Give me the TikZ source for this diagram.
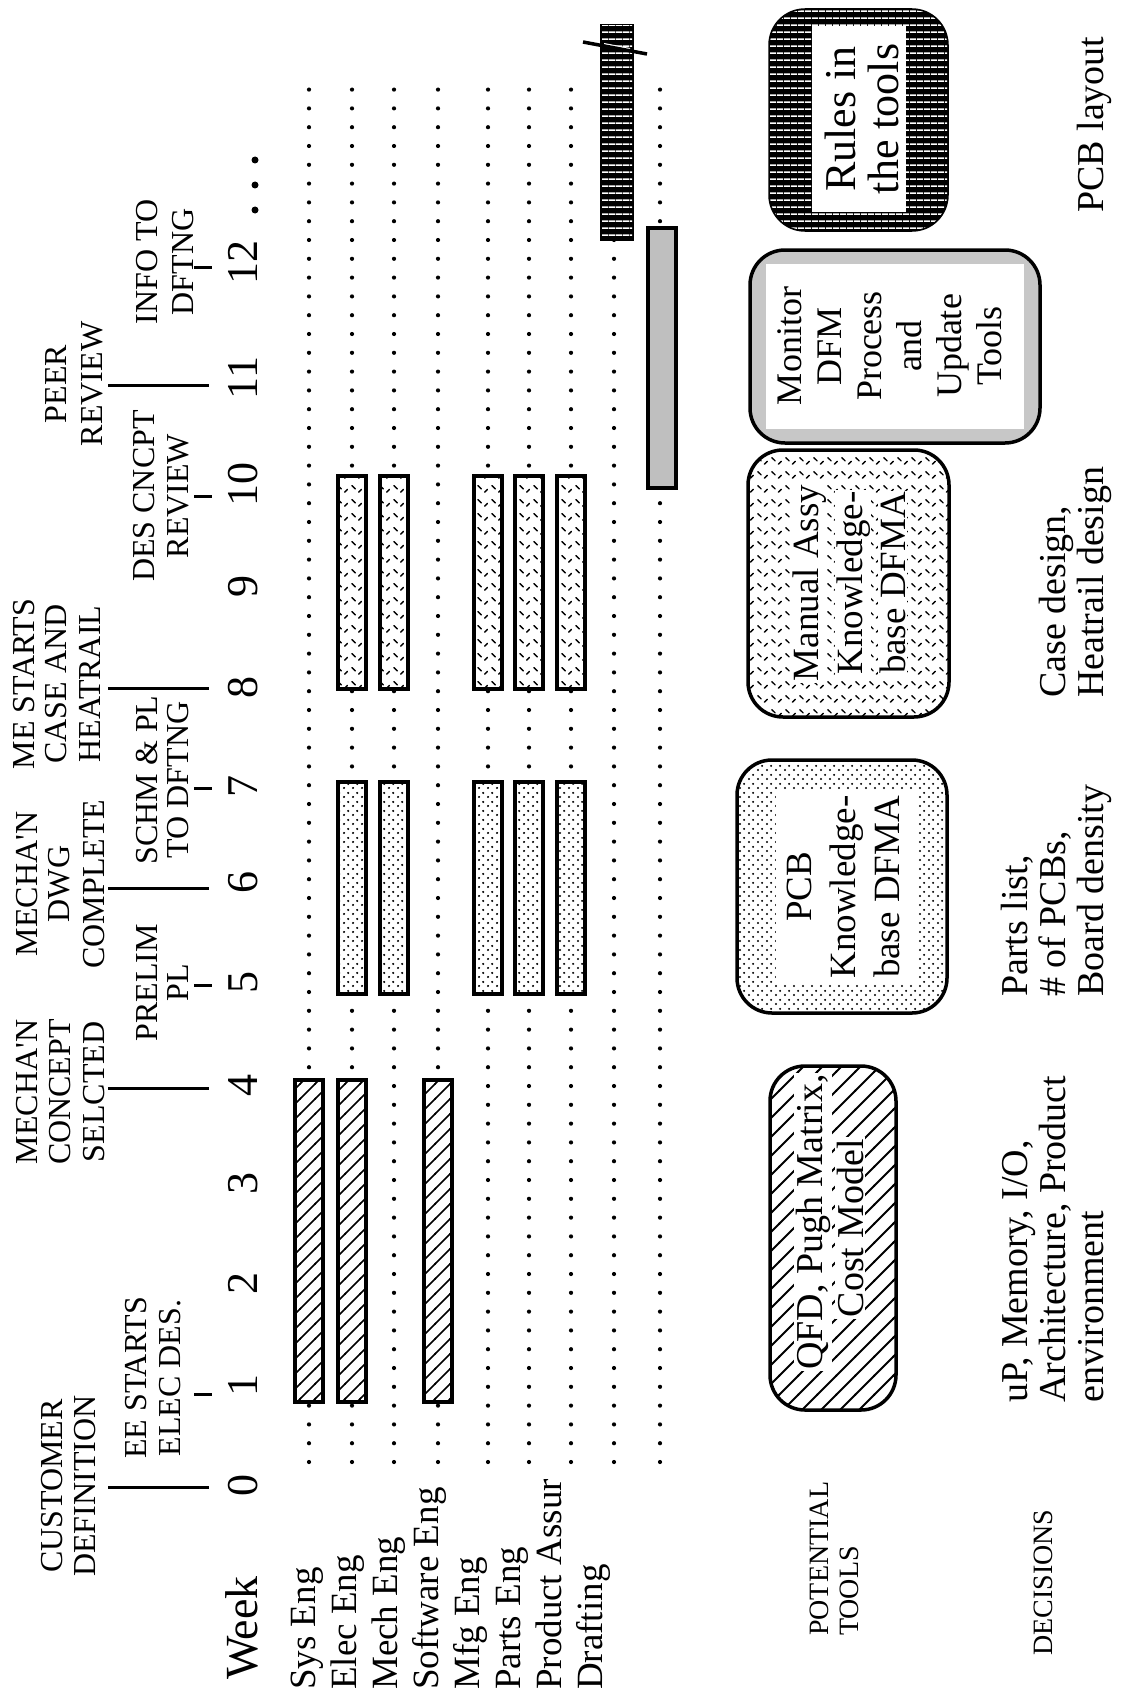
\documentclass[tikz,border=0pt]{standalone}
\usepackage{fontspec}
\setmainfont{Liberation Serif}
\usetikzlibrary{patterns.meta}
\tikzdeclarepattern{name=hatchne,type=uncolored,
  bounding box={(-1pt,-1pt) and (16pt,16pt)},tile size={(15pt,15pt)},
  code={\draw[line width=1.6pt] (-1pt,-1pt) -- (16pt,16pt);}}
\tikzdeclarepattern{name=hatchwide,type=uncolored,
  bounding box={(-1pt,-1pt) and (20pt,20pt)},tile size={(19pt,19pt)},
  code={\draw[line width=1.9pt] (-1pt,-1pt) -- (20pt,20pt);}}
\tikzdeclarepattern{name=stip,type=uncolored,
  bounding box={(0pt,0pt) and (9pt,9pt)},tile size={(9pt,9pt)},
  code={\fill (2.25pt,2.25pt) circle (1.25pt); \fill (6.75pt,6.75pt) circle (1.25pt);}}
\tikzdeclarepattern{name=shortdash,type=uncolored,
  bounding box={(0pt,0pt) and (14pt,14pt)},tile size={(14pt,14pt)},
  code={\draw[line width=1.5pt,line cap=round] (2pt,10pt) -- (5.5pt,6.5pt);
        \draw[line width=1.5pt,line cap=round] (9pt,3pt) -- (12pt,6pt);}}
\tikzdeclarepattern{name=hthin,type=uncolored,
  bounding box={(0pt,0pt) and (7pt,7pt)},tile size={(7pt,7pt)},
  code={\fill (0pt,0pt) rectangle (7pt,1.8pt);}}
\newcommand\fsz[1]{\fontsize{#1}{#1}\selectfont}
\begin{document}
\begin{tikzpicture}[x=1pt,y=-1pt,
  ms/.style={rotate=90,font=\fsz{32},inner sep=0pt,anchor=base},
  wk/.style={rotate=90,font=\fsz{44},inner sep=0pt,anchor=base},
  lab/.style={rotate=90,font=\fsz{37},inner sep=0pt,anchor=base west},
  dec/.style={rotate=90,font=\fsz{38},inner sep=0pt,anchor=base west},
  head/.style={rotate=90,font=\fsz{28},inner sep=0pt,anchor=base west},
  bt/.style={rotate=90,inner sep=1.5pt,anchor=base},
  tick/.style={line width=3pt},
  bar/.style={line width=3.5pt,preaction={fill=white}},
  tbox/.style={line width=3.5pt,rounded corners=35pt}]
\useasboundingbox (0,0) rectangle (1126,1699);

% ---- dotted row guides
\foreach \X in {309,352,394,438,488,529,571,614,660}{
  \foreach \k in {0,...,73}{\fill (\X,{1462-\k*18.8}) circle (2.1);}}

% ---- milestone labels (outer, long ticks)
\node[ms] (m0a) at (62,1486) {CUSTOMER};
\node[ms] (m0b) at (95,1486) {DEFINITION};
\node[ms] (m4a) at (37,1092) {MECHA\textquotesingle N};
\node[ms] (m4b) at (70,1092) {CONCEPT};
\node[ms] (m4c) at (104,1092) {SELCTED};
\node[ms] (m6a) at (37,884) {MECHA\textquotesingle N};
\node[ms] (m6b) at (69,884) {DWG};
\node[ms] (m6c) at (104,884) {COMPLETE};
\node[ms] (m8a) at (34,684) {ME STARTS};
\node[ms] (m8b) at (66,684) {CASE AND};
\node[ms] (m8c) at (100,684) {HEATRAIL};
\node[ms] (m11a) at (66,384) {PEER};
\node[ms] (m11b) at (102,384) {REVIEW};
% ---- milestone labels (inner, short ticks)
\node[ms] (m1a) at (146,1378) {EE STARTS};
\node[ms] (m1b) at (180,1378) {ELEC DES.};
\node[ms] (m5a) at (157,983) {PRELIM};
\node[ms] (m5b) at (188,983) {PL};
\node[ms] (m7a) at (157,780) {SCHM \& PL};
\node[ms] (m7b) at (188,780) {TO DFTNG};
\node[ms] (m10a) at (154,496) {DES CNCPT};
\node[ms] (m10b) at (188,496) {REVIEW};
\node[ms] (m12a) at (157,262) {INFO TO};
\node[ms] (m12b) at (193,262) {DFTNG};

% ---- ticks
\foreach \Y in {1487,1088,888,688,385}{\draw[tick] (108,\Y) -- (209,\Y);}
\foreach \Y in {1394,985,788,496,267}{\draw[tick] (194,\Y) -- (212,\Y);}

% ---- week numbers
\node[rotate=90,font=\fsz{46},inner sep=0pt,anchor=base west] (week) at (257,1680) {Week};
\node[wk] (w0) at (257,1485) {0};
\node[wk] (w1) at (257,1385) {1};
\node[wk] (w2) at (257,1283) {2};
\node[wk] (w3) at (257,1183) {3};
\node[wk] (w4) at (257,1085) {4};
\node[wk] (w5) at (257,982) {5};
\node[wk] (w6) at (257,882) {6};
\node[wk] (w7) at (257,786) {7};
\node[wk] (w8) at (257,687) {8};
\node[wk] (w9) at (257,586) {9};
\node[wk] (w10) at (257,484) {10};
\node[wk] (w11) at (257,378) {11};
\node[wk] (w12) at (257,262) {12};
\foreach \Y in {160,185,210}{\fill (255,\Y) circle (3.5);}

% ---- row labels
\node[lab] (r1) at (315,1690) {Sys Eng};
\node[lab] (r2) at (356,1690) {Elec Eng};
\node[lab] (r3) at (397,1690) {Mech Eng};
\node[lab] (r4) at (438,1690) {Software Eng};
\node[lab] (r5) at (479,1690) {Mfg Eng};
\node[lab] (r6) at (520,1690) {Parts Eng};
\node[lab] (r7) at (561,1690) {Product Assur};
\node[lab] (r8) at (602,1690) {Drafting};

% ---- bars weeks 1-4 (hatched)
\foreach \X in {309,352,438}{
  \draw[bar,pattern=hatchne] ({\X-14},1080) rectangle ({\X+14},1402);}
% ---- bars weeks 5-7 (dotted)
\foreach \X in {352,394,488,529,571}{
  \draw[bar,pattern=stip] ({\X-14},782) rectangle ({\X+14},994);}
% ---- bars weeks 8-10 (short strokes)
\foreach \X in {352,394,488,529,571}{
  \draw[bar,pattern=shortdash] ({\X-14},476) rectangle ({\X+14},689);}
% ---- grey bar and drafting bar
\draw[bar,fill=black!25] (648,228) rectangle (676,488);
\draw[line width=3.5pt,fill=black,postaction={pattern=hthin,pattern color=white}]
  (602,26) rectangle (632,239);
\draw[draw=white,line width=2pt] (604,44) -- (630,49);
\draw[line width=3.5pt] (583,42) -- (647,54);

% ---- potential tools
\node[head] (pt1) at (828,1636) {POTENTIAL};
\node[head] (pt2) at (858,1636) {TOOLS};

\draw[tbox,preaction={fill=white},pattern=hatchwide] (770,1066) rectangle (896,1410);
\node[bt,fill=white,font=\fsz{38}] (q1) at (822,1222) {QFD, Pugh Matrix,};
\node[bt,fill=white,font=\fsz{38}] (q2) at (863,1228) {Cost Model};

\draw[tbox,preaction={fill=white},pattern=stip] (737,760) rectangle (947,1013);
\fill[white] (776,790) rectangle (918,984);
\node[bt,font=\fsz{37}] (p1) at (811,887) {PCB};
\node[bt,font=\fsz{37}] (p2) at (855,887) {Knowledge-};
\node[bt,font=\fsz{37}] (p3) at (899,887) {base DFMA};

\draw[tbox,preaction={fill=white},pattern=shortdash] (748,450) rectangle (949,717);
\node[bt,fill=white,font=\fsz{37}] (a1) at (818,583) {Manual Assy};
\node[bt,fill=white,font=\fsz{37}] (a2) at (862,583) {Knowledge-};
\node[bt,fill=white,font=\fsz{37}] (a3) at (905,583) {base DFMA};

\draw[tbox,fill=black!22] (750,250) rectangle (1040,443);
\fill[white] (766,264) rectangle (1024,429);
\node[bt,font=\fsz{36}] (t1) at (801,346) {Monitor};
\node[bt,font=\fsz{36}] (t2) at (841,346) {DFM};
\node[bt,font=\fsz{36}] (t3) at (881,346) {Process};
\node[bt,font=\fsz{36}] (t4) at (921,346) {and};
\node[bt,font=\fsz{36}] (t5) at (961,346) {Update};
\node[bt,font=\fsz{36}] (t6) at (1001,346) {Tools};

\draw[tbox,fill=black,postaction={pattern=hthin,pattern color=white}] (770,10) rectangle (947,230);
\fill[white] (812,26) rectangle (906,212);
\node[bt,font=\fsz{44}] (u1) at (855,119) {Rules in};
\node[bt,font=\fsz{44}] (u2) at (898,119) {the tools};

% ---- decisions
\node[head] (dd) at (1052,1656) {DECISIONS};
\node[dec] (d1a) at (1027,1403) {uP, Memory, I/O,};
\node[dec] (d1b) at (1065,1403) {Architecture, Product};
\node[dec] (d1c) at (1103,1403) {environment};
\node[dec] (d2a) at (1027,997) {Parts list,};
\node[dec] (d2b) at (1065,997) {\# of PCBs,};
\node[dec] (d2c) at (1103,997) {Board density};
\node[dec] (d3a) at (1065,698) {Case design,};
\node[dec] (d3b) at (1103,698) {Heatrail design};
\node[dec] (d4a) at (1103,213) {PCB layout};
\end{tikzpicture}
\end{document}
